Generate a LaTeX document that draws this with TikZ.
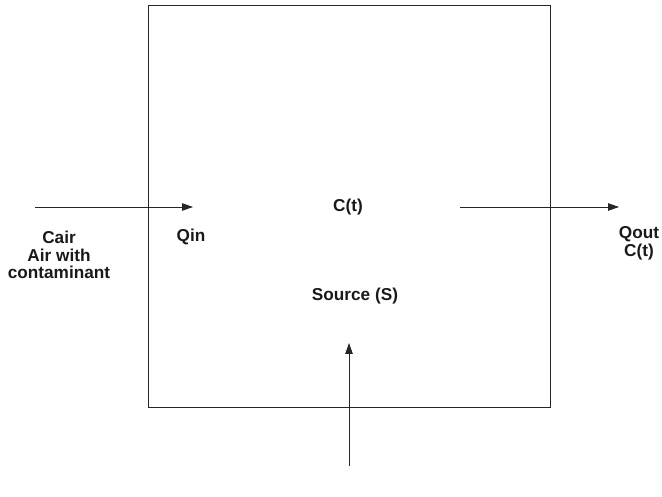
\documentclass[tikz,border=0pt]{standalone}
\usepackage{fontspec}
\setmainfont{Liberation Sans}
\usetikzlibrary{arrows.meta}
\begin{document}
\begin{tikzpicture}[x=1pt,y=-1pt,
  lbl/.style={font=\fontsize{17.2}{17.8}\selectfont\bfseries, align=center, inner sep=0pt, text=black!90},
  flow/.style={line width=0.8pt, draw=black!85, -{Triangle[length=11pt,width=7.5pt]}},
  room/.style={draw=black!85, line width=0.8pt, minimum width=402pt, minimum height=402pt, inner sep=0pt}]
\useasboundingbox (0,0) rectangle (662,497);
\node[room] (box) at (349,206) {};
\coordinate (inA) at (35,207);
\coordinate (inB) at (193,207);
\coordinate (outA) at (460,207);
\coordinate (outB) at (619,207);
\coordinate (srcA) at (349,466);
\coordinate (srcB) at (349,343);
\draw[flow] (inA) -- (inB);
\draw[flow] (outA) -- (outB);
\draw[flow] (srcA) -- (srcB);
\node[lbl] (cair) at (59,255) {Cair\\Air with\\contaminant};
\node[lbl] (qin) at (191,237) {Qin};
\node[lbl] (ct) at (348,207) {C(t)};
\node[lbl] (qout) at (639,243) {Qout\\C(t)};
\node[lbl] (src) at (355,296) {Source (S)};
\end{tikzpicture}
\end{document}
